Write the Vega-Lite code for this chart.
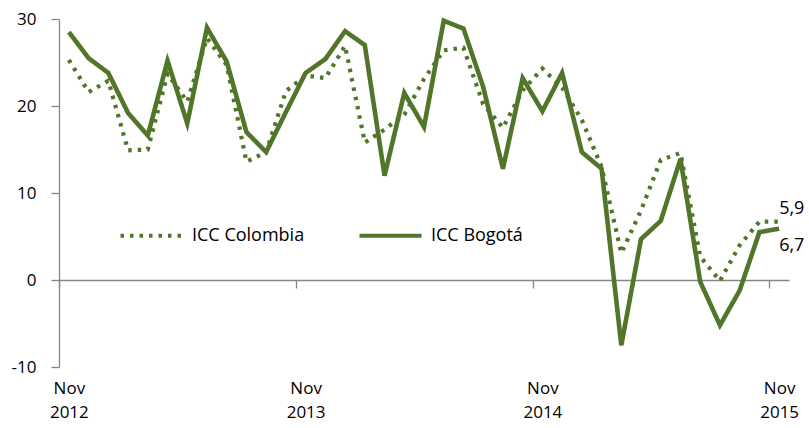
{
  "$schema": "https://vega.github.io/schema/vega-lite/v6.json",
  "width": 730,
  "height": 348,
  "autosize": {"type": "none"},
  "padding": {"left": 59, "top": 19, "right": 20, "bottom": 61},
  "background": "white",
  "config": {
    "view": {"stroke": null},
    "font": "Open Sans",
    "axis": {"grid": false, "domainColor": "#868686", "tickColor": "#868686", "domainWidth": 1.3, "tickWidth": 1.3, "labelColor": "#000000", "labelFont": "Open Sans", "labelFontSize": 16, "title": null}
  },
  "datasets": {
    "icc": [
      {"month": "2012-11", "serie": "ICC Bogotá", "valor": 28.5},
      {"month": "2012-12", "serie": "ICC Bogotá", "valor": 25.5},
      {"month": "2013-01", "serie": "ICC Bogotá", "valor": 23.8},
      {"month": "2013-02", "serie": "ICC Bogotá", "valor": 19.2},
      {"month": "2013-03", "serie": "ICC Bogotá", "valor": 16.6},
      {"month": "2013-04", "serie": "ICC Bogotá", "valor": 25.2},
      {"month": "2013-05", "serie": "ICC Bogotá", "valor": 18.0},
      {"month": "2013-06", "serie": "ICC Bogotá", "valor": 29.0},
      {"month": "2013-07", "serie": "ICC Bogotá", "valor": 25.1},
      {"month": "2013-08", "serie": "ICC Bogotá", "valor": 17.0},
      {"month": "2013-09", "serie": "ICC Bogotá", "valor": 14.7},
      {"month": "2013-10", "serie": "ICC Bogotá", "valor": 19.3},
      {"month": "2013-11", "serie": "ICC Bogotá", "valor": 23.8},
      {"month": "2013-12", "serie": "ICC Bogotá", "valor": 25.4},
      {"month": "2014-01", "serie": "ICC Bogotá", "valor": 28.6},
      {"month": "2014-02", "serie": "ICC Bogotá", "valor": 27.0},
      {"month": "2014-03", "serie": "ICC Bogotá", "valor": 12.0},
      {"month": "2014-04", "serie": "ICC Bogotá", "valor": 21.5},
      {"month": "2014-05", "serie": "ICC Bogotá", "valor": 17.6},
      {"month": "2014-06", "serie": "ICC Bogotá", "valor": 29.8},
      {"month": "2014-07", "serie": "ICC Bogotá", "valor": 28.9},
      {"month": "2014-08", "serie": "ICC Bogotá", "valor": 22.2},
      {"month": "2014-09", "serie": "ICC Bogotá", "valor": 12.8},
      {"month": "2014-10", "serie": "ICC Bogotá", "valor": 23.2},
      {"month": "2014-11", "serie": "ICC Bogotá", "valor": 19.4},
      {"month": "2014-12", "serie": "ICC Bogotá", "valor": 23.8},
      {"month": "2015-01", "serie": "ICC Bogotá", "valor": 14.7},
      {"month": "2015-02", "serie": "ICC Bogotá", "valor": 12.8},
      {"month": "2015-03", "serie": "ICC Bogotá", "valor": -7.5},
      {"month": "2015-04", "serie": "ICC Bogotá", "valor": 4.7},
      {"month": "2015-05", "serie": "ICC Bogotá", "valor": 6.8},
      {"month": "2015-06", "serie": "ICC Bogotá", "valor": 13.9},
      {"month": "2015-07", "serie": "ICC Bogotá", "valor": -0.2},
      {"month": "2015-08", "serie": "ICC Bogotá", "valor": -5.2},
      {"month": "2015-09", "serie": "ICC Bogotá", "valor": -1.2},
      {"month": "2015-10", "serie": "ICC Bogotá", "valor": 5.5},
      {"month": "2015-11", "serie": "ICC Bogotá", "valor": 5.9},
      {"month": "2012-11", "serie": "ICC Colombia", "valor": 25.3},
      {"month": "2012-12", "serie": "ICC Colombia", "valor": 21.6},
      {"month": "2013-01", "serie": "ICC Colombia", "valor": 22.9},
      {"month": "2013-02", "serie": "ICC Colombia", "valor": 14.9},
      {"month": "2013-03", "serie": "ICC Colombia", "valor": 15.0},
      {"month": "2013-04", "serie": "ICC Colombia", "valor": 23.7},
      {"month": "2013-05", "serie": "ICC Colombia", "valor": 20.5},
      {"month": "2013-06", "serie": "ICC Colombia", "valor": 27.8},
      {"month": "2013-07", "serie": "ICC Colombia", "valor": 24.7},
      {"month": "2013-08", "serie": "ICC Colombia", "valor": 13.6},
      {"month": "2013-09", "serie": "ICC Colombia", "valor": 14.7},
      {"month": "2013-10", "serie": "ICC Colombia", "valor": 21.7},
      {"month": "2013-11", "serie": "ICC Colombia", "valor": 23.5},
      {"month": "2013-12", "serie": "ICC Colombia", "valor": 23.2},
      {"month": "2014-01", "serie": "ICC Colombia", "valor": 26.9},
      {"month": "2014-02", "serie": "ICC Colombia", "valor": 15.8},
      {"month": "2014-03", "serie": "ICC Colombia", "valor": 17.3},
      {"month": "2014-04", "serie": "ICC Colombia", "valor": 19.0},
      {"month": "2014-05", "serie": "ICC Colombia", "valor": 23.1},
      {"month": "2014-06", "serie": "ICC Colombia", "valor": 26.4},
      {"month": "2014-07", "serie": "ICC Colombia", "valor": 26.7},
      {"month": "2014-08", "serie": "ICC Colombia", "valor": 20.2},
      {"month": "2014-09", "serie": "ICC Colombia", "valor": 17.5},
      {"month": "2014-10", "serie": "ICC Colombia", "valor": 21.8},
      {"month": "2014-11", "serie": "ICC Colombia", "valor": 24.3},
      {"month": "2014-12", "serie": "ICC Colombia", "valor": 22.1},
      {"month": "2015-01", "serie": "ICC Colombia", "valor": 18.4},
      {"month": "2015-02", "serie": "ICC Colombia", "valor": 13.0},
      {"month": "2015-03", "serie": "ICC Colombia", "valor": 3.1},
      {"month": "2015-04", "serie": "ICC Colombia", "valor": 8.0},
      {"month": "2015-05", "serie": "ICC Colombia", "valor": 13.8},
      {"month": "2015-06", "serie": "ICC Colombia", "valor": 14.6},
      {"month": "2015-07", "serie": "ICC Colombia", "valor": 2.7},
      {"month": "2015-08", "serie": "ICC Colombia", "valor": -0.1},
      {"month": "2015-09", "serie": "ICC Colombia", "valor": 4.0},
      {"month": "2015-10", "serie": "ICC Colombia", "valor": 6.7},
      {"month": "2015-11", "serie": "ICC Colombia", "valor": 6.7}
    ],
    "etiquetas": [
      {"month": "2015-11", "serie": "ICC Bogotá", "valor": 5.9, "texto": "5,9"},
      {"month": "2015-11", "serie": "ICC Colombia", "valor": 6.7, "texto": "6,7"}
    ]
  },
  "encoding": {
    "x": {
      "field": "month",
      "type": "ordinal",
      "sort": null,
      "scale": {"type": "point", "padding": 0.5},
      "axis": {
        "values": ["2012-11", "2013-11", "2014-11", "2015-11"],
        "labelExpr": "['Nov', slice(datum.value, 0, 4)]",
        "labelAngle": 0,
        "labelAlign": "center",
        "labelBaseline": "top",
        "labelLineHeight": 24,
        "labelFontSize": 17,
        "offset": -87,
        "tickSize": 8,
        "tickOffset": -9.86,
        "labelOffset": 9.86,
        "labelPadding": 92
      }
    },
    "y": {
      "field": "valor",
      "type": "quantitative",
      "scale": {"domain": [-10, 30], "nice": false, "zero": false},
      "axis": {"values": [-10, 0, 10, 20, 30], "labelExpr": "'' + datum.value", "tickSize": 8, "labelPadding": 15, "labelFontSize": 17}
    }
  },
  "layer": [
    {
      "data": {"name": "icc"},
      "transform": [{"filter": "datum.serie == 'ICC Colombia'"}],
      "mark": {"type": "line", "color": "#51762A", "strokeWidth": 4.2},
      "encoding": {
        "strokeDash": {
          "field": "serie",
          "type": "nominal",
          "scale": {"domain": ["ICC Colombia", "ICC Bogotá"], "range": [[3.5, 6], [1, 0]]},
          "legend": {
            "title": null,
            "orient": "none",
            "direction": "horizontal",
            "legendX": 59,
            "legendY": 183,
            "symbolType": "stroke",
            "symbolSize": 3844,
            "symbolStrokeWidth": 4.2,
            "symbolStrokeColor": "#51762A",
            "labelFont": "Open Sans",
            "labelFontSize": 18,
            "labelColor": "#000000",
            "labelOffset": 7,
            "columnPadding": 46,
            "padding": 0
          }
        }
      }
    },
    {
      "data": {"name": "icc"},
      "transform": [{"filter": "datum.serie == 'ICC Bogotá'"}],
      "mark": {"type": "line", "color": "#51762A", "strokeWidth": 4.6},
      "encoding": {
        "strokeDash": {"field": "serie", "type": "nominal"}
      }
    },
    {
      "data": {"name": "etiquetas"},
      "transform": [{"filter": "datum.serie == 'ICC Bogotá'"}],
      "mark": {"type": "text", "align": "left", "baseline": "middle", "dx": 0, "dy": -20, "fontSize": 18, "font": "Open Sans", "color": "#000000"},
      "encoding": {"text": {"field": "texto"}}
    },
    {
      "data": {"name": "etiquetas"},
      "transform": [{"filter": "datum.serie == 'ICC Colombia'"}],
      "mark": {"type": "text", "align": "left", "baseline": "middle", "dx": 0, "dy": 24, "fontSize": 18, "font": "Open Sans", "color": "#000000"},
      "encoding": {"text": {"field": "texto"}}
    }
  ]
}
